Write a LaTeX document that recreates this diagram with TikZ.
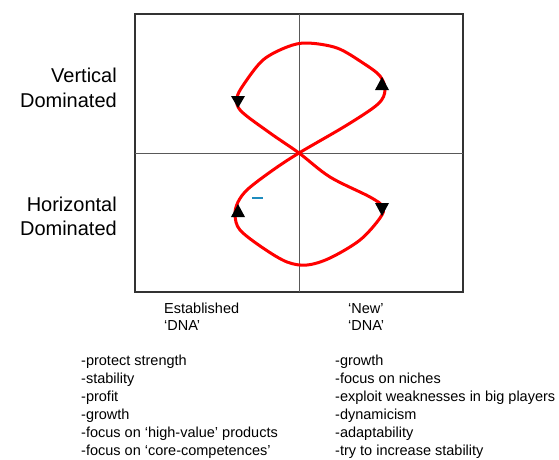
\documentclass[tikz,border=0pt]{standalone}
\usepackage{fontspec}
\setmainfont{Liberation Sans}
\begin{document}
\begin{tikzpicture}[x=1pt,y=-1pt,
  frame/.style={draw=black!80, line width=1.5pt},
  axis/.style={draw=black!65, line width=1pt},
  loopline/.style={draw=red, line width=3pt, line join=round},
  tip/.style={fill=black},
  side/.style={font=\fontsize{20}{25}\selectfont, anchor=base east, inner sep=0pt},
  head/.style={font=\fontsize{14.5}{18}\selectfont, anchor=base west, inner sep=0pt},
  item/.style={font=\fontsize{14.5}{18}\selectfont, anchor=base west, inner sep=0pt},
]
\useasboundingbox (0,0) rectangle (559,459);

% quadrant frame and axes
\draw[frame] (135,14) rectangle (463,292);
\coordinate (top) at (299,14);
\coordinate (bottom) at (299,292);
\coordinate (left) at (135,153);
\coordinate (right) at (463,153);
\coordinate (c) at (299,153);
\draw[axis] (top) -- (bottom);
\draw[axis] (left) -- (right);

% figure-eight loop
\draw[loopline] plot[smooth cycle, tension=0.55] coordinates {
  (299,153) (347,125) (378,104) (385,90) (380,76) (363,63) (337,48)
  (307,43) (287,47) (263,60) (244,84) (237,98) (241,111) (270,133)
  (299,153) (330,177) (370,197) (383,207) (380,218) (360,240) (330,258)
  (307,265) (287,262) (263,248) (240,230) (235,215) (238,202) (248,189)
  (273,170)
};

% direction markers
\fill[tip] (231,96) -- (245,96) -- (238,108) -- cycle;
\fill[tip] (375,90) -- (389,90) -- (382,77) -- cycle;
\fill[tip] (231,217) -- (245,217) -- (238,204) -- cycle;
\fill[tip] (375,203) -- (389,203) -- (382,216) -- cycle;

% small blue mark
\draw[draw={rgb,255:red,30;green,140;blue,190}, line width=2pt] (252,198) -- (263,198);

% side labels
\node[side] (v1) at (117,82) {Vertical};
\node[side] (v2) at (117,107) {Dominated};
\node[side] (h1) at (117,211) {Horizontal};
\node[side] (h2) at (117,235.5) {Dominated};

% column headings
\node[head] (e1) at (164,313.5) {Established};
\node[head] (e2) at (164,330) {‘DNA’};
\node[head] (n1) at (348,313.5) {‘New’};
\node[head] (n2) at (348,330) {‘DNA’};

% trait lists
\foreach \t [count=\i from 0] in {-protect strength,-stability,-profit,-growth,
  -focus on ‘high-value’ products,-focus on ‘core-competences’}
  \node[item] (l\i) at (81,365.5+18*\i) {\t};
\foreach \t [count=\i from 0] in {-growth,-focus on niches,
  -exploit weaknesses in big players,-dynamicism,-adaptability,
  -try to increase stability}
  \node[item] (r\i) at (335,365.5+18*\i) {\t};
\end{tikzpicture}
\end{document}
